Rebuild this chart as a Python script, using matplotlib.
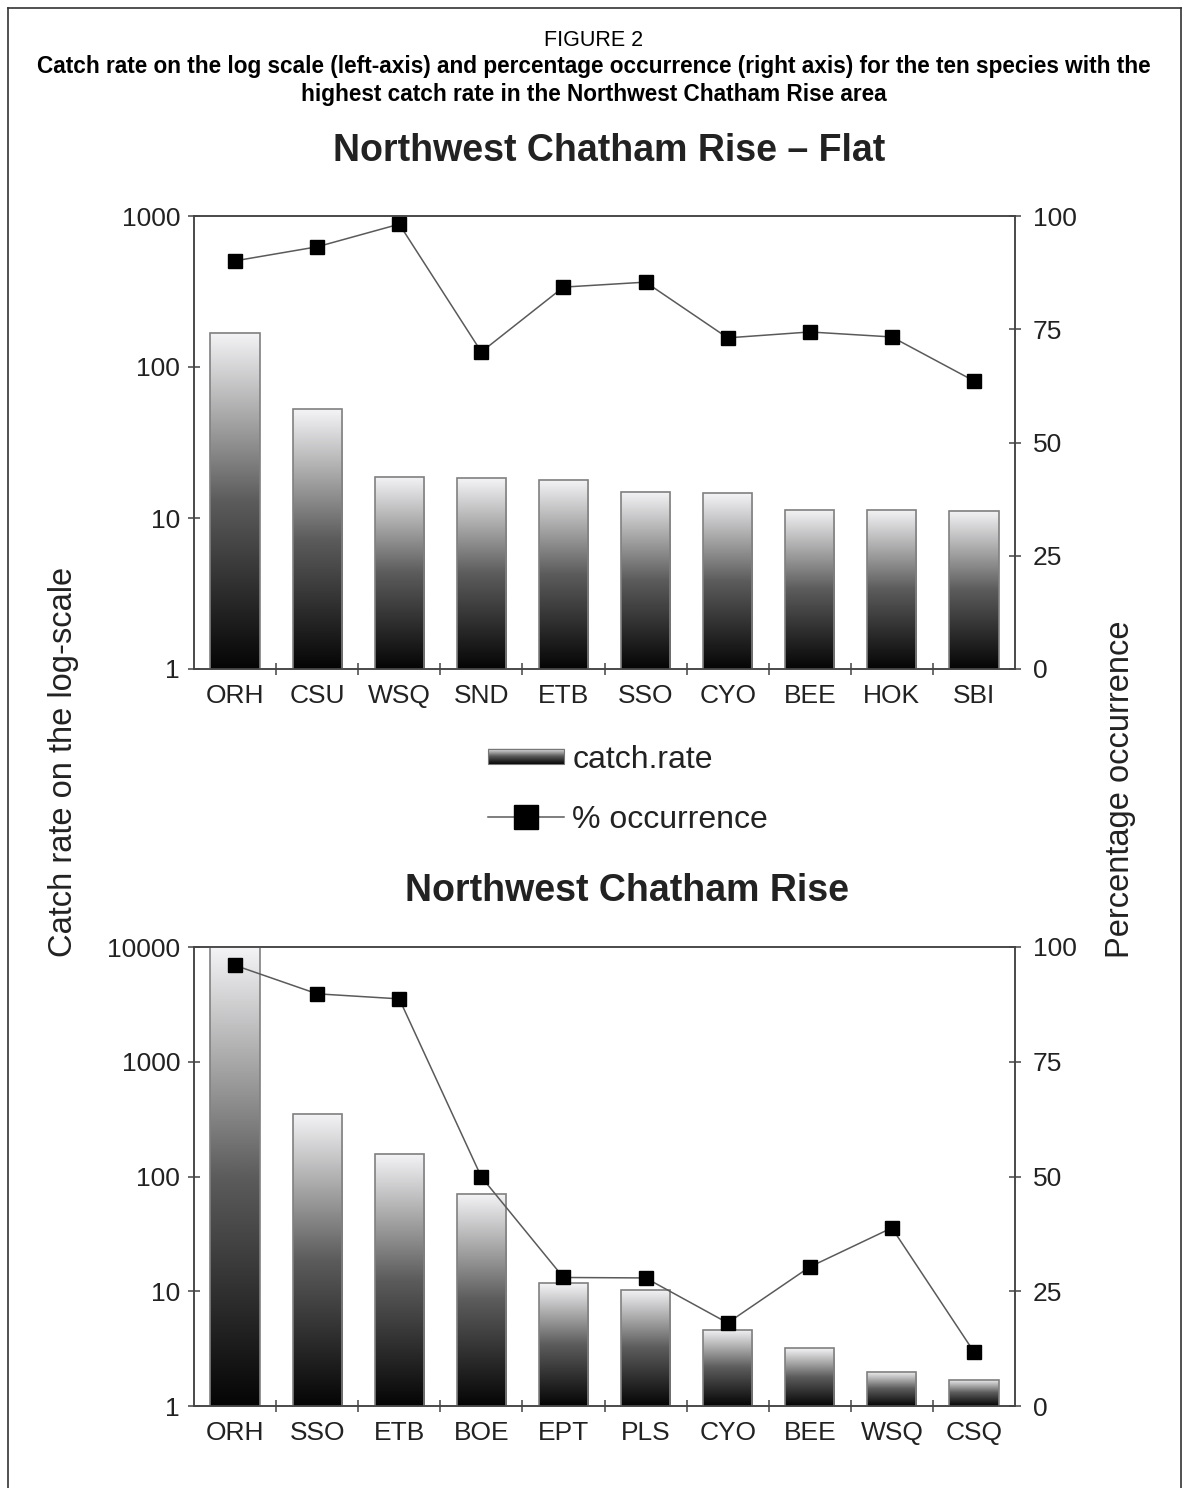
import numpy as np
import matplotlib
matplotlib.use("Agg")
import matplotlib.pyplot as plt
from matplotlib import font_manager
from matplotlib.colors import LinearSegmentedColormap
from matplotlib.image import BboxImage
from matplotlib.legend_handler import HandlerBase
from matplotlib.lines import Line2D
from matplotlib.patches import Rectangle
from matplotlib.transforms import Bbox, TransformedBbox

plt.rcParams['font.family'] = 'Liberation Sans'

# Northwest Chatham Rise - Flat
flat_species = ['ORH', 'CSU', 'WSQ', 'SND', 'ETB', 'SSO', 'CYO', 'BEE', 'HOK', 'SBI']
flat_catch = [168, 52.7, 18.7, 18.4, 17.9, 14.9, 14.6, 11.3, 11.3, 11.2]
flat_occ = [90.1, 93.2, 98.2, 70.0, 84.3, 85.4, 73.1, 74.4, 73.3, 63.6]

# Northwest Chatham Rise
nw_species = ['ORH', 'SSO', 'ETB', 'BOE', 'EPT', 'PLS', 'CYO', 'BEE', 'WSQ', 'CSQ']
nw_catch = [10000, 353, 158, 71, 11.8, 10.3, 4.6, 3.2, 1.98, 1.69]
nw_occ = [96.0, 89.8, 88.7, 49.9, 28.0, 27.9, 18.1, 30.3, 38.8, 11.8]

flat_ticks = [1, 10, 100, 1000]
nw_ticks = [1, 10, 100, 1000, 10000]
occ_ticks = [0, 25, 50, 75, 100]

W, H = 1187, 1488
AXIS_COL = '#444444'
TEXT_COL = '#222222'
LINE_COL = '#5a5a5a'

grad_cmap = LinearSegmentedColormap.from_list('bar_grad', ['#050505', '#5c5c5c', '#f4f4f6'])
grad = np.linspace(0, 1, 256).reshape(-1, 1)


class GradientHandler(HandlerBase):
    def create_artists(self, legend, orig_handle, xdescent, ydescent,
                       width, height, fontsize, trans):
        bb = Bbox.from_bounds(-xdescent, -ydescent + height * 0.15, width, height * 0.7)
        img = BboxImage(TransformedBbox(bb, trans), cmap=grad_cmap,
                        origin='lower', interpolation='bilinear')
        img.set_data(grad)
        frame = Rectangle((-xdescent, -ydescent + height * 0.15), width, height * 0.7,
                          facecolor='none', edgecolor='#777777', lw=0.8, transform=trans)
        return [img, frame]


def draw_panel(ax, species, catch, occ, yticks):
    x = np.arange(len(species))
    ax.set_yscale('log')
    ax.set_ylim(yticks[0], yticks[-1])
    ax.set_xlim(-0.5, len(species) - 0.5)
    bars = ax.bar(x, catch, width=0.6, facecolor='none', edgecolor='#808080',
                  lw=1.2, zorder=3)
    ymin = ax.get_ylim()[0]
    for rect in bars:
        bb = Bbox.from_extents(rect.get_x(), ymin, rect.get_x() + rect.get_width(),
                               rect.get_height())
        img = BboxImage(TransformedBbox(bb, ax.transData), cmap=grad_cmap,
                        origin='lower', interpolation='bilinear', zorder=2)
        img.set_data(grad)
        ax.add_artist(img)

    ax.set_yticks(yticks)
    ax.set_yticklabels([str(t) for t in yticks])
    ax.yaxis.set_minor_locator(matplotlib.ticker.NullLocator())
    ax.set_xticks(x[:-1] + 0.5)
    ax.set_xticklabels([])
    ax.set_xticks(x, minor=True)
    ax.set_xticklabels(species, minor=True)
    ax.tick_params(axis='x', which='major', direction='inout', length=8,
                   width=1.1, color=AXIS_COL)
    ax.tick_params(axis='x', which='minor', length=0, pad=11,
                   labelsize=19, labelcolor=TEXT_COL)
    ax.tick_params(axis='y', direction='inout', length=8, width=1.1,
                   color=AXIS_COL, labelsize=19, labelcolor=TEXT_COL, pad=6)

    ax2 = ax.twinx()
    ax2.set_ylim(0, 100)
    line, = ax2.plot(x, occ, color=LINE_COL, lw=1.1, marker='s', markersize=10,
                     markerfacecolor='black', markeredgecolor='black')
    ax2.set_yticks(occ_ticks)
    ax2.tick_params(axis='y', direction='inout', length=8, width=1.1,
                    color=AXIS_COL, labelsize=19, labelcolor=TEXT_COL, pad=9)
    for a in (ax, ax2):
        for sp in a.spines.values():
            sp.set_color(AXIS_COL)
            sp.set_linewidth(1.1)
    return line


fig = plt.figure(figsize=(W / 100, H / 100), dpi=100)

ax_top = fig.add_axes([194 / W, 1 - 669 / H, 821 / W, 453 / H])
occ_line = draw_panel(ax_top, flat_species, flat_catch, flat_occ, flat_ticks)

ax_bot = fig.add_axes([194 / W, 1 - 1406 / H, 821 / W, 459 / H])
draw_panel(ax_bot, nw_species, nw_catch, nw_occ, nw_ticks)

# panel titles and shared axis labels
fig.text(609 / W, 1 - 151 / H, 'Northwest Chatham Rise \u2013 Flat', ha='center',
         va='center', fontsize=27, fontweight='bold', color=TEXT_COL)
fig.text(627 / W, 1 - 891 / H, 'Northwest Chatham Rise', ha='center',
         va='center', fontsize=27, fontweight='bold', color=TEXT_COL)
fig.text(64 / W, 1 - 762 / H, 'Catch rate on the log-scale', rotation=90,
         ha='center', va='center', fontsize=23.5, color=TEXT_COL)
fig.text(1120 / W, 1 - 789 / H, 'Percentage occurrence', rotation=90,
         ha='center', va='center', fontsize=23.5, color=TEXT_COL)

bar_proxy = Rectangle((0, 0), 1, 1)
fig.legend([bar_proxy, occ_line], ['catch.rate', '% occurrence'],
           handler_map={bar_proxy: GradientHandler()},
           loc='center', bbox_to_anchor=(628 / W, 1 - 790 / H), frameon=False,
           fontsize=23, handlelength=2.4, handletextpad=0.25, labelspacing=0.95,
           markerscale=1.7, borderpad=0, labelcolor=TEXT_COL)

# caption above the charts
names = {f.name for f in font_manager.fontManager.ttflist}
if 'Liberation Sans Narrow' in names:
    cap_font, cap_size, fig_size = 'Liberation Sans Narrow', 16.5, 16.5
else:
    cap_font, cap_size, fig_size = 'Liberation Sans', 16.3, 15.5
fig.text(0.5, 1 - 40 / H, 'FIGURE 2', ha='center', va='center',
         family=cap_font, fontsize=fig_size, color='black')
fig.text(0.5, 1 - 67 / H,
         'Catch rate on the log scale (left-axis) and percentage occurrence (right axis) '
         'for the ten species with the',
         ha='center', va='center', family=cap_font, fontsize=cap_size,
         fontweight='bold', color='black')
fig.text(0.5, 1 - 95 / H, 'highest catch rate in the Northwest Chatham Rise area',
         ha='center', va='center', family=cap_font, fontsize=cap_size,
         fontweight='bold', color='black')

# frame around the figure
for xs, ys in [((8, 8), (H, 8)), ((8, 1181), (8, 8)), ((1181, 1181), (8, H))]:
    fig.add_artist(Line2D([x / W for x in xs], [1 - y / H for y in ys],
                          color='#333333', lw=1.2))

fig.savefig('out.png', dpi=100)
